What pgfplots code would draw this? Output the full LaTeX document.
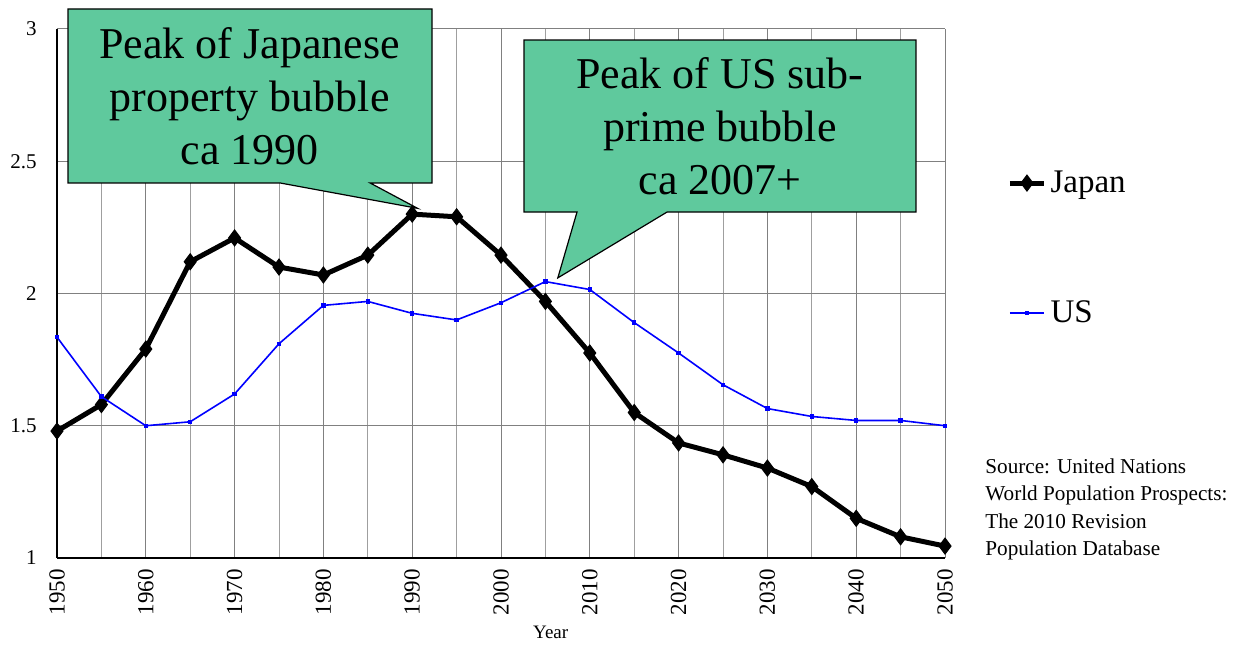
\documentclass[border=0pt]{standalone}
\usepackage{fontspec}
\setmainfont{Liberation Serif}
\usepackage{pgfplots}
\pgfplotsset{compat=1.18}
\definecolor{callout}{RGB}{95,201,157}
\definecolor{usblue}{RGB}{0,0,255}

\begin{document}
\begin{tikzpicture}
\begin{axis}[
  scale only axis,
  width=444pt, height=264.5pt,
  xmin=1950, xmax=2050, ymin=1, ymax=3,
  axis lines=left,
  axis line style={-, line width=0.9pt},
  xtick={1950,1960,...,2050},
  minor xtick={1955,1965,...,2045},
  ytick={1,1.5,...,3},
  grid=both,
  major grid style={gray, line width=0.5pt},
  minor grid style={gray!75, line width=0.5pt},
  tick style={draw=none},
  xticklabel style={rotate=90, anchor=east, font=\fontsize{11.5}{12}\selectfont},
  yticklabel style={font=\fontsize{10.5}{12}\selectfont, xshift=-4.5pt},
  /pgf/number format/assume math mode=true,
  /pgf/number format/1000 sep={},
  clip=false,
  legend style={draw=none, fill=none, at={(rel axis cs:1,0)}, anchor=west,
    xshift=31pt, yshift=155pt, inner sep=0pt, row sep=48.5pt,
    font=\fontsize{16.5}{18}\selectfont},
  legend cell align=left,
]
\addplot[black, line width=2.5pt, mark=diamond*, mark size=4pt,
  mark options={solid, line width=0.5pt}] coordinates {
  (1950,1.48) (1955,1.58) (1960,1.79) (1965,2.12) (1970,2.21)
  (1975,2.10) (1980,2.07) (1985,2.145) (1990,2.30) (1995,2.29)
  (2000,2.145) (2005,1.97) (2010,1.775) (2015,1.55) (2020,1.435)
  (2025,1.39) (2030,1.34) (2035,1.27) (2040,1.15) (2045,1.08) (2050,1.045)};
\addlegendentry{Japan}
\addplot[usblue, line width=0.8pt, mark=square*, mark size=0.7pt] coordinates {
  (1950,1.835) (1955,1.61) (1960,1.50) (1965,1.515) (1970,1.62)
  (1975,1.81) (1980,1.955) (1985,1.97) (1990,1.925) (1995,1.90)
  (2000,1.965) (2005,2.045) (2010,2.015) (2015,1.89) (2020,1.775)
  (2025,1.655) (2030,1.565) (2035,1.535) (2040,1.52) (2045,1.52) (2050,1.50)};
\addlegendentry{US}

% callouts
\draw[fill=callout, line width=0.6pt]
  (axis cs:1951.24,3.0756) -- (axis cs:1992.23,3.0756) -- (axis cs:1992.23,2.418)
  -- (axis cs:1985.25,2.418) -- (axis cs:1990.6,2.322) -- (axis cs:1975.1,2.418)
  -- (axis cs:1951.24,2.418) -- cycle;
\node[align=center, font=\fontsize{22}{26.5}\selectfont]
  at (axis cs:1971.7,2.747) {Peak of Japanese\\property bubble\\ca 1990};
\draw[fill=callout, line width=0.6pt]
  (axis cs:2002.59,2.958) -- (axis cs:2046.73,2.958) -- (axis cs:2046.73,2.308)
  -- (axis cs:2018.7,2.308) -- (axis cs:2006.4,2.059) -- (axis cs:2008.56,2.308)
  -- (axis cs:2002.59,2.308) -- cycle;
\node[align=center, font=\fontsize{22}{26.5}\selectfont]
  at (axis cs:2024.66,2.633) {Peak of US sub-\\prime bubble\\ca 2007+};

\node[font=\fontsize{9.5}{11}\selectfont] at (axis cs:2005.6,1) [yshift=-37pt] {Year};
\node[anchor=north west, inner sep=0pt, align=left, font=\fontsize{10.6}{13.75}\selectfont]
  at (axis cs:2054.5,1.378) {Source: United Nations\\World Population Prospects:\\The 2010 Revision\\Population Database};

\path (rel axis cs:0,0) ++(-28.5pt,-43pt) rectangle ++(624pt,322pt);
\end{axis}
\end{tikzpicture}
\end{document}
